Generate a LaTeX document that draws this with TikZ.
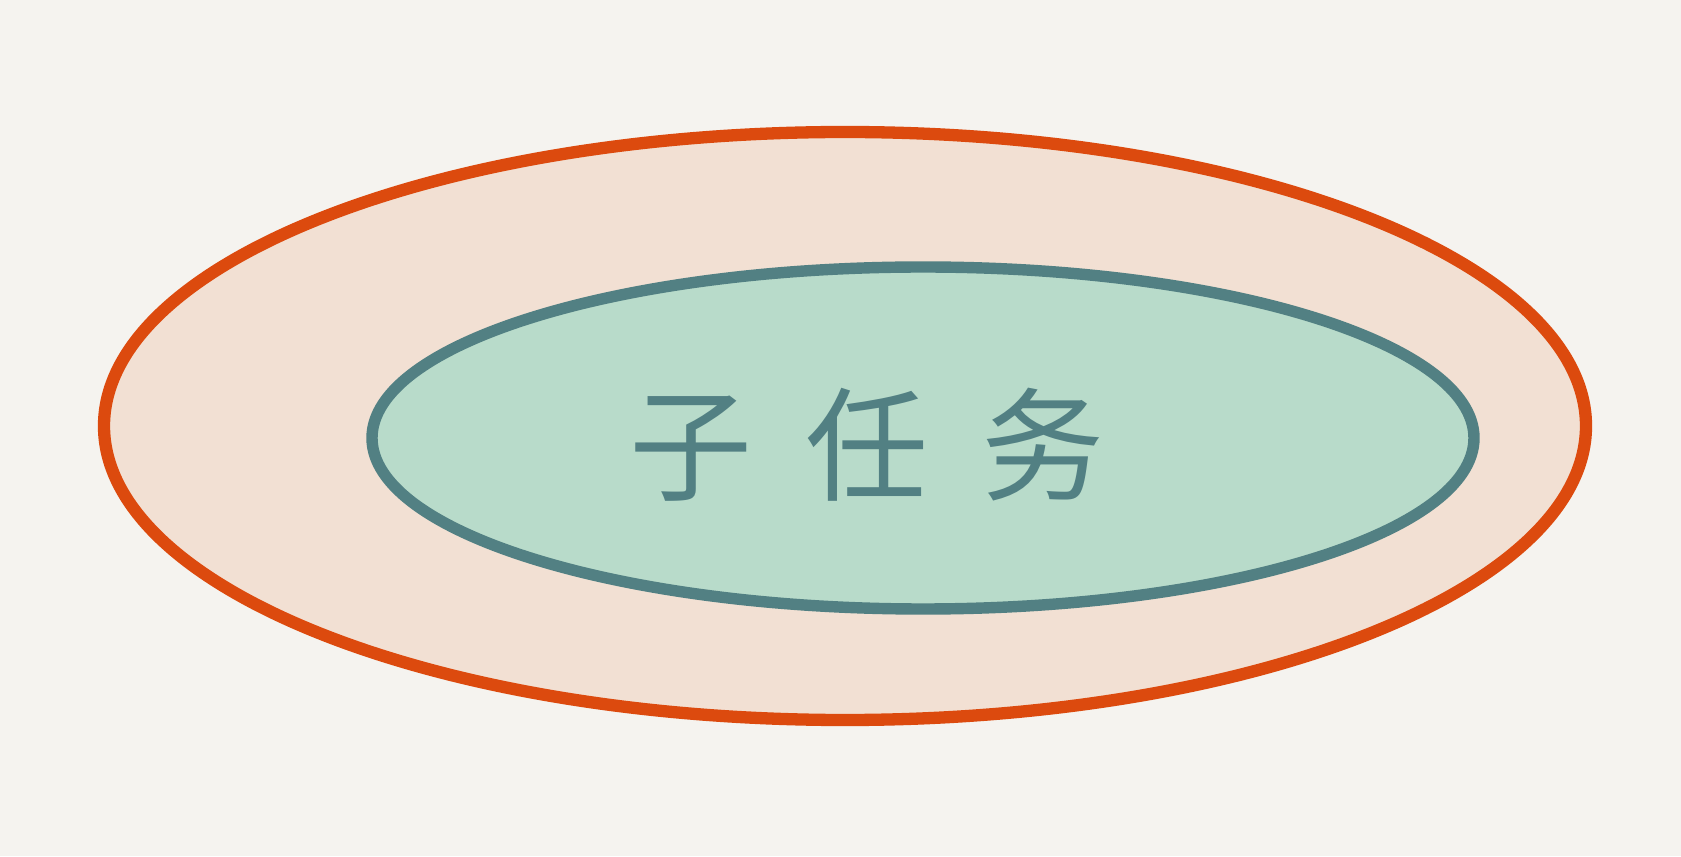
\documentclass[tikz,border=0pt]{standalone}
\usepackage{fontspec}
\newfontfamily\cjk{Noto Sans CJK SC}
\usepackage{xcolor}
\usetikzlibrary{positioning}
\definecolor{paper}{HTML}{F5F3EF}
\definecolor{outerfill}{HTML}{F2E0D3}
\definecolor{outerline}{HTML}{DC4A0E}
\definecolor{innerfill}{HTML}{B8DBCA}
\definecolor{innerline}{HTML}{528083}
\begin{document}
\begin{tikzpicture}[x=0.02cm,y=0.02cm]
      % canvas
      \fill[paper] (0,0) rectangle (1681,856);
      \useasboundingbox (0,0) rectangle (1681,856);

      % outer ellipse
      \filldraw[fill=outerfill, draw=outerline, line width=7pt] (845,430) ellipse (741 and 294);

      % inner ellipse
      \filldraw[fill=innerfill, draw=innerline, line width=6.5pt] (923,418) ellipse (551 and 171);

      % label
      \node[innerline, font=\cjk\fontsize{70}{80}\selectfont] (sub) at (867,411)
        {子\hspace{30pt}任\hspace{30pt}务};
    \end{tikzpicture}
\end{document}
